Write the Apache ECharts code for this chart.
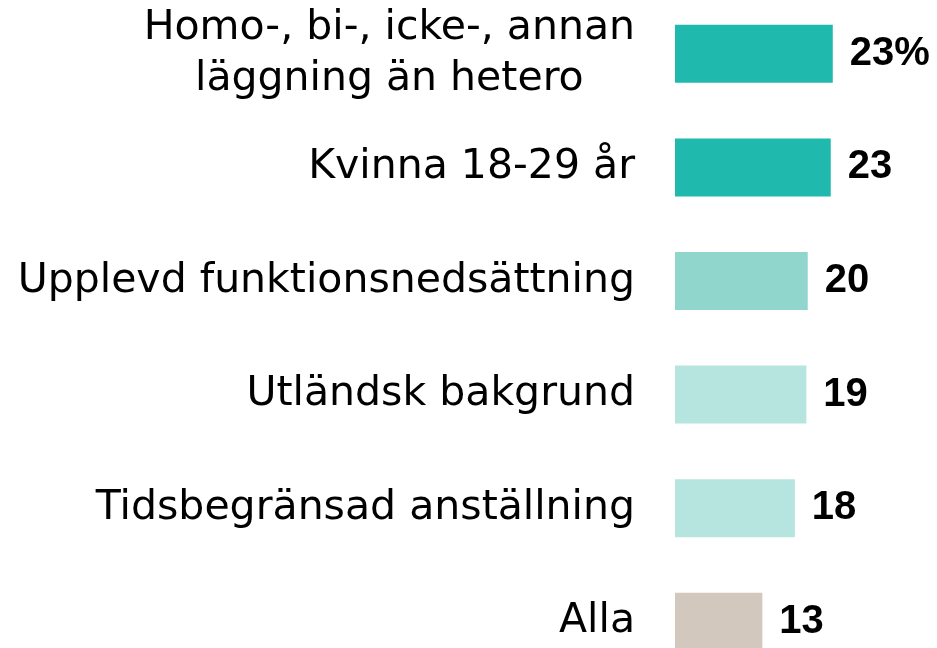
<!DOCTYPE html>
<html>
<head>
<meta charset="utf-8">
<script src="https://cdn.jsdelivr.net/npm/echarts@6/dist/echarts.min.js"></script>
<style>
  html, body { margin: 0; padding: 0; background: #fff; }
  #chart { width: 937px; height: 648px; }
</style>
</head>
<body>
<div id="chart"></div>
<script>
const categories = [
  'Homo-, bi-, icke-, annan\nläggning än hetero',
  'Kvinna 18-29 år',
  'Upplevd funktionsnedsättning',
  'Utländsk bakgrund',
  'Tidsbegränsad anställning',
  'Alla'
]
const values = [23.3, 23.0, 19.6, 19.4, 17.7, 12.9]

// bar colours, top to bottom
const palette = ['#20b9ae', '#20b9ae', '#90d6cd', '#b6e4df', '#b6e4df', '#d2c8be']

const chart = echarts.init(document.getElementById('chart'))

const option = {
  animation: false,
  grid: {
    left: 675,
    width: 237,
    top: -3,
    height: 681.6,
    outerBoundsMode: 'none'
  },
  xAxis: {
    type: 'value',
    min: 0,
    max: 35,
    show: false
  },
  yAxis: {
    type: 'category',
    inverse: true,
    data: categories,
    axisLine: { show: false },
    axisTick: { show: false },
    splitLine: { show: false },
    axisLabel: {
      margin: 40,
      align: 'right',
      formatter: val => val.split('\n').map(s => '{c|' + s + '}').join('\n'),
      rich: {
        c: {
          fontFamily: 'DejaVu Sans',
          fontSize: 41,
          lineHeight: 51,
          color: '#000',
          align: 'center'
        }
      }
    }
  },
  series: [
    {
      type: 'bar',
      barWidth: 58,
      data: values.map((v, i) => ({ value: v, itemStyle: { color: palette[i] } })),
      label: {
        show: true,
        position: 'right',
        distance: 17,
        fontFamily: 'Liberation Sans',
        fontWeight: 'bold',
        fontSize: 40,
        color: '#000',
        formatter: p => Math.round(p.value) + (p.dataIndex === 0 ? '%' : '')
      }
    }
  ]
}

chart.setOption(option)
</script>
</body>
</html>
